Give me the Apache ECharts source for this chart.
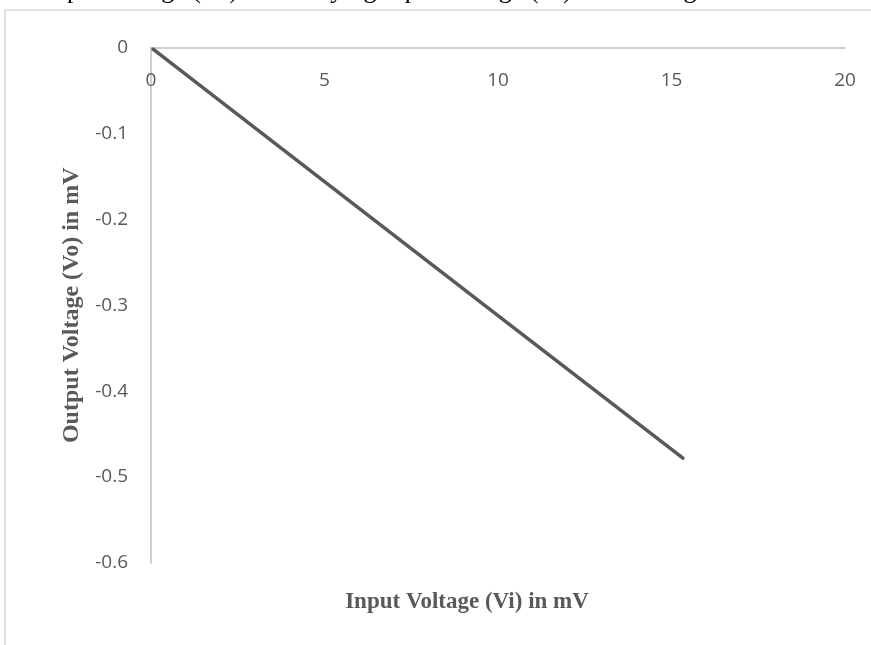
<!DOCTYPE html>
<html>
<head>
<meta charset="utf-8">
<script src="https://cdn.jsdelivr.net/npm/echarts@6/dist/echarts.min.js"></script>
<style>html,body{margin:0;padding:0;background:#fff;}#c{width:871px;height:645px;}</style>
</head>
<body>
<div id="c"></div>
<script>
var inputVoltage = [0.06, 5, 10, 15.33];
var outputVoltage = [-0.002, -0.156, -0.312, -0.478];
var xTicks = [0, 5, 10, 15, 20];
var yTicks = [0, -0.1, -0.2, -0.3, -0.4, -0.5, -0.6];
var xTitle = 'Input Voltage (Vi) in mV';
var yTitle = 'Output Voltage (Vo) in mV';
var captionText = 'Output Voltage (Vo) with varying Input Voltage (Vi) in mV range';

var chart = echarts.init(document.getElementById('c'), null, {renderer: 'canvas'});
var pts = inputVoltage.map(function (v, i) { return [v, outputVoltage[i]]; });
var labelStyle = {color: '#595959', fontFamily: 'Open Sans', fontSize: 19};
chart.setOption({
  animation: false,
  backgroundColor: '#fff',
  grid: {left: 151, top: 47.5, right: 26, bottom: 82, containLabel: false},
  xAxis: {
    type: 'value', min: xTicks[0], max: xTicks[xTicks.length - 1], interval: 5,
    position: 'top',
    axisLine: {show: true, onZero: false, lineStyle: {color: '#bfbfbf', width: 1.5}},
    axisTick: {show: false},
    splitLine: {show: false},
    axisLabel: Object.assign({inside: true, margin: 24}, labelStyle)
  },
  yAxis: {
    type: 'value', min: yTicks[yTicks.length - 1], max: yTicks[0], interval: 0.1,
    axisLine: {show: true, onZero: false, lineStyle: {color: '#bfbfbf', width: 1.5}},
    axisTick: {show: false},
    splitLine: {show: false},
    axisLabel: Object.assign({margin: 23, formatter: function (v) { return String(+v.toFixed(1)); }}, labelStyle),
    name: yTitle, nameLocation: 'middle', nameGap: 62,
    nameTextStyle: {color: '#595959', fontFamily: 'Liberation Serif', fontWeight: 'bold', fontSize: 24}
  },
  graphic: [
    {type: 'rect', shape: {x: 5, y: 10, width: 900, height: 700}, style: {fill: 'none', stroke: '#d9d9d9', lineWidth: 1.5}, silent: true},
    {type: 'text', x: 28, y: 4, style: {text: captionText, fill: '#000', font: '26px "Liberation Serif"', textAlign: 'left', textVerticalAlign: 'bottom'}},
    {type: 'text', x: 467, y: 602, style: {text: xTitle, fill: '#595959', font: 'bold 23px "Liberation Serif"', textAlign: 'center', textVerticalAlign: 'middle'}}
  ],
  series: [{
    type: 'line', data: pts, showSymbol: false, symbol: 'none',
    lineStyle: {color: '#595959', width: 3.5, cap: 'round'},
    z: 3
  }]
});
</script>
</body>
</html>
